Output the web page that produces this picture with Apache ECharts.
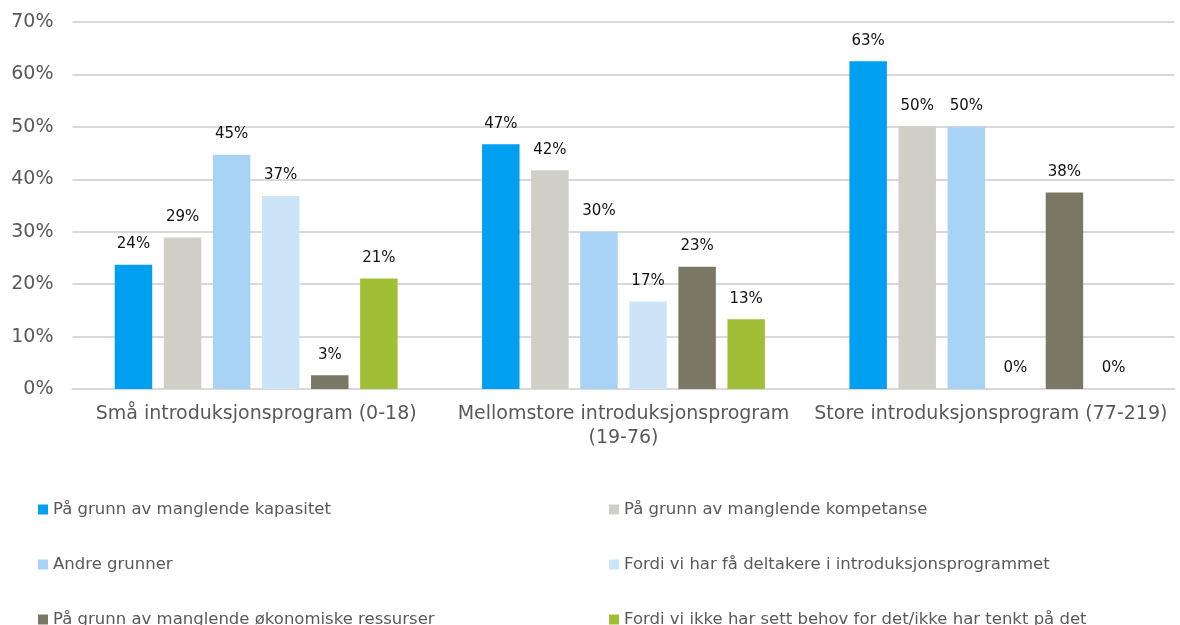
<!DOCTYPE html>
<html>
<head>
<meta charset="utf-8">
<script src="https://cdn.jsdelivr.net/npm/echarts@6/dist/echarts.min.js"></script>
<style>html,body{margin:0;padding:0;background:#fff}#c{width:1180px;height:625px}</style>
</head>
<body>
<div id="c"></div>
<script>
const categories = ['Små introduksjonsprogram (0-18)', 'Mellomstore introduksjonsprogram\n(19-76)', 'Store introduksjonsprogram (77-219)'];
const seriesNames = [
  'På grunn av manglende kapasitet',
  'På grunn av manglende kompetanse',
  'Andre grunner',
  'Fordi vi har få deltakere i introduksjonsprogrammet',
  'På grunn av manglende økonomiske ressurser',
  'Fordi vi ikke har sett behov for det/ikke har tenkt på det'
];
const kapasitet = [23.7, 46.7, 62.5];
const kompetanse = [28.9, 41.7, 50.0];
const andre = [44.7, 30.0, 50.0];
const faDeltakere = [36.8, 16.7, 0];
const okonomi = [2.6, 23.3, 37.5];
const ikkeBehov = [21.1, 13.3, 0];
const yTicks = [0, 10, 20, 30, 40, 50, 60, 70];

const seriesData = [kapasitet, kompetanse, andre, faDeltakere, okonomi, ikkeBehov];
const colors = ['#019FEF', '#CFCFC7', '#A9D3F4', '#CBE4F7', '#7A7864', '#A1BE37'];
const FONT = '"DejaVu Sans", Verdana, sans-serif';

const legendPos = [
  {left: 38, top: 501}, {left: 609, top: 501},
  {left: 38, top: 556}, {left: 609, top: 556},
  {left: 38, top: 611}, {left: 609, top: 611}
];

const chart = echarts.init(document.getElementById('c'), null, {renderer: 'canvas'});
chart.setOption({
  animation: false,
  textStyle: {fontFamily: FONT},
  grid: {left: 72.5, right: 5.5, top: 22, bottom: 236, containLabel: false},
  xAxis: {
    type: 'category',
    data: categories,
    axisTick: {show: false},
    axisLine: {show: true, lineStyle: {color: '#d9d9d9', width: 2}},
    axisLabel: {color: '#595959', fontSize: 19, fontFamily: FONT, margin: 13, lineHeight: 24, interval: 0}
  },
  yAxis: {
    type: 'value',
    min: yTicks[0],
    max: yTicks[yTicks.length - 1],
    interval: 10,
    axisLine: {show: false},
    axisTick: {show: false},
    splitLine: {lineStyle: {color: '#d9d9d9', width: 2}},
    axisLabel: {color: '#595959', fontSize: 19, fontFamily: FONT, margin: 19, formatter: v => v + '%'}
  },
  legend: seriesNames.map((name, i) => ({
    orient: 'horizontal', left: legendPos[i].left, top: legendPos[i].top, padding: 0,
    itemWidth: 10, itemHeight: 10, icon: 'rect',
    data: [name],
    textStyle: {color: '#595959', fontSize: 16.5, fontFamily: FONT, lineHeight: 12}
  })),
  series: seriesNames.map((name, i) => ({
    name: name,
    type: 'bar',
    data: seriesData[i],
    itemStyle: {color: colors[i]},
    barGap: '31%',
    barCategoryGap: '23%',
    label: {
      show: true,
      position: 'top',
      distance: 13,
      color: '#111',
      fontSize: 15,
      fontFamily: FONT,
      formatter: p => Math.round(p.value) + '%'
    }
  }))
});
</script>
</body>
</html>
